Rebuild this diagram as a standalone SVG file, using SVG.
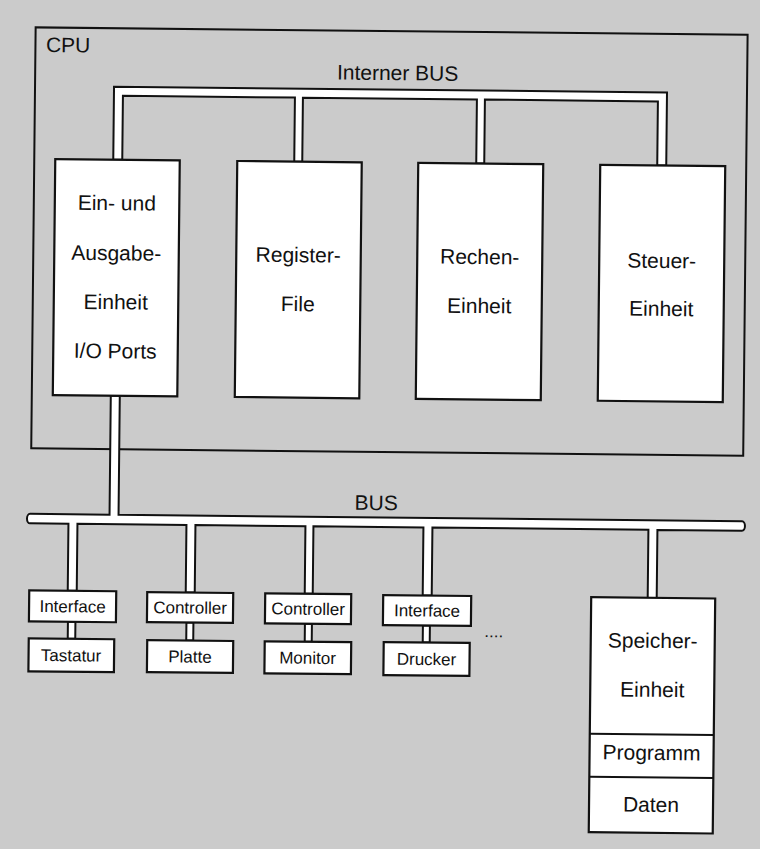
<svg xmlns="http://www.w3.org/2000/svg" width="760" height="849" viewBox="0 0 760 849">
<style>
.ln{fill:none;stroke:#111;stroke-width:2}
.box{fill:#fff;stroke:#111;stroke-width:2.2}
.bus{fill:#fff;stroke:#111;stroke-width:2;stroke-linejoin:miter}
.t{font-family:"Liberation Sans",Arial,Helvetica,sans-serif;fill:#111;text-anchor:middle;font-size:21px}
.s{font-family:"Liberation Sans",Arial,Helvetica,sans-serif;fill:#111;text-anchor:middle;font-size:17px}
</style>
<rect width="760" height="849" fill="#cbcbcb"/>
<g transform="rotate(0.6 380 425)">
<g id="cpu">
<rect class="ln" x="31.5" y="31" width="712" height="421"/>
<text class="t" x="42" y="55.5" style="text-anchor:start">CPU</text>
</g>
<g id="connectors">
<path id="internal-bus" class="bus" d="M110.5,162.5 V89.5 H663.5 V162.5 H654.5 V98.5 H481.5 V162.5 H473.5 V98.5 H299.5 V162.5 H291.5 V98.5 H119.5 V162.5 Z"/>
<text class="t" x="394" y="80">Interner BUS</text>
<path id="main-bus" class="bus" d="M31,517.5 H110.5 V398.5 H119.5 V517.5 H743 A3,4.75 0 0 1 743,527 H658.5 V595 H649.5 V527 H433.5 V595 H424.5 V527 H314.5 V594.5 H306.5 V527 H196.5 V594.5 H187.5 V527 H78.5 V594 H69.5 V527 H31 A3,4.75 0 0 1 31,517.5 Z"/>
<text class="t" x="377" y="510">BUS</text>
<rect class="bus" x="70" y="625" width="7.5" height="17"/>
<rect class="bus" x="188.5" y="624.5" width="7" height="18"/>
<rect class="bus" x="307" y="624.5" width="7" height="18"/>
<rect class="bus" x="425" y="625" width="7" height="17"/>
</g>
<g id="io">
<rect class="box" x="52.5" y="162.5" width="124.5" height="236"/>
<text class="t" x="114.5" y="213">Ein- und</text>
<text class="t" x="114.5" y="263">Ausgabe-</text>
<text class="t" x="114.5" y="312">Einheit</text>
<text class="t" x="114.5" y="361">I/O Ports</text>
</g>
<g id="register">
<rect class="box" x="234.5" y="162.5" width="124.5" height="236"/>
<text class="t" x="296.5" y="263">Register-</text>
<text class="t" x="296.5" y="312">File</text>
</g>
<g id="rechen">
<rect class="box" x="415.5" y="162.5" width="125" height="236"/>
<text class="t" x="478" y="263">Rechen-</text>
<text class="t" x="478" y="312">Einheit</text>
</g>
<g id="steuer">
<rect class="box" x="597.5" y="162.5" width="125" height="236"/>
<text class="t" x="660" y="265">Steuer-</text>
<text class="t" x="660" y="313">Einheit</text>
</g>
<g id="interface1">
<rect class="box" x="31" y="594" width="87" height="31"/>
<text class="s" x="74.5" y="615.5">Interface</text>
</g>
<g id="tastatur">
<rect class="box" x="31" y="642" width="85.5" height="33"/>
<text class="s" x="73.5" y="664.5">Tastatur</text>
</g>
<g id="controller1">
<rect class="box" x="149" y="594.5" width="86" height="30"/>
<text class="s" x="192" y="615.5">Controller</text>
</g>
<g id="platte">
<rect class="box" x="149.5" y="642.5" width="86" height="32"/>
<text class="s" x="192.5" y="664.5">Platte</text>
</g>
<g id="controller2">
<rect class="box" x="267" y="594.5" width="86" height="30"/>
<text class="s" x="310" y="615.5">Controller</text>
</g>
<g id="monitor">
<rect class="box" x="267" y="642.5" width="86.5" height="32"/>
<text class="s" x="310" y="664.5">Monitor</text>
</g>
<g id="interface2">
<rect class="box" x="385" y="595" width="88" height="30"/>
<text class="s" x="429" y="616">Interface</text>
</g>
<g id="drucker">
<rect class="box" x="386" y="642" width="86" height="33"/>
<text class="s" x="429" y="664.5">Drucker</text>
</g>
<text class="s" x="496" y="636">....</text>
<g id="speicher">
<rect class="box" x="593" y="595" width="124" height="235"/>
<line class="ln" x1="593" y1="731.5" x2="717" y2="731.5"/>
<line class="ln" x1="593" y1="774.5" x2="717" y2="774.5"/>
<text class="t" x="655" y="645">Speicher-</text>
<text class="t" x="655" y="694">Einheit</text>
<text class="t" x="655" y="757">Programm</text>
<text class="t" x="655" y="809">Daten</text>
</g>
</g>
</svg>
